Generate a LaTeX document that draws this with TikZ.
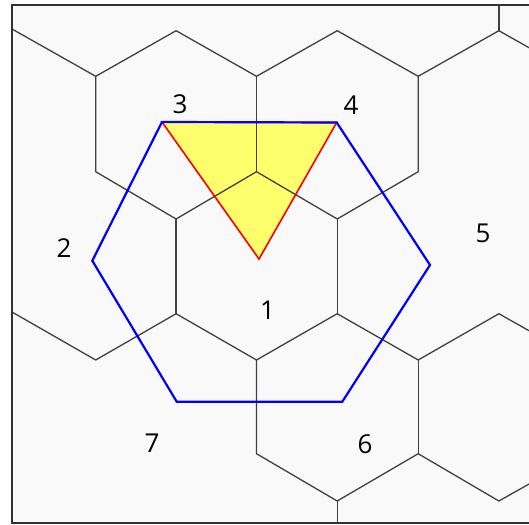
\documentclass[tikz,border=0pt]{standalone}
\usepackage{fontspec}
\setmainfont{Open Sans}
\definecolor{bgfill}{HTML}{F9F9F9}
\definecolor{gridgray}{HTML}{404040}
\definecolor{tri}{HTML}{FFFF6E}
\begin{document}
\begin{tikzpicture}[x=1pt,y=-1pt,
  gridline/.style={draw=gridgray, line width=1.3pt, line join=round},
  frameline/.style={draw=black!80, line width=1.8pt},
  hexline/.style={draw=blue, line width=2.2pt, line join=miter},
  triline/.style={draw=red, line width=1.6pt, line join=miter},
  lab/.style={font=\fontsize{26}{26}\selectfont, inner sep=0pt}]
\useasboundingbox (0,0) rectangle (529,524);
\fill[white] (0,0) rectangle (529,524);
\fill[bgfill] (12,5) rectangle (529,523);
% columns and rows
\def\cA{95.7}\def\cB{176.1}\def\cC{256.5}\def\cD{337.2}\def\cE{418.2}\def\cF{498.9}
\def\ra{30.7}\def\rb{76.3}\def\rc{171.7}\def\rd{219}\def\re{313.7}\def\rf{360}\def\rg{453.7}\def\rh{501}
% triangle fill
\coordinate (t1) at (162,122);
\coordinate (t2) at (336.7,122.5);
\coordinate (t3) at (259,259);
\fill[tri] (t1) -- (t2) -- (t3) -- cycle;
% hex grid
\begin{scope}
\clip (12,5) rectangle (529,523);
\draw[gridline] (12,29) -- (\cA,\rb) -- (\cB,\ra) -- (\cC,\rb) -- (\cD,\ra) -- (\cE,\rb) -- (\cF,\ra) -- (529,47.7);
\draw[gridline] (\cF,\ra) -- (\cF,0);
\draw[gridline] (\cA,\rb) -- (\cA,\rc) -- (\cB,\rd) -- (\cC,\rc) -- (\cD,\rd) -- (\cE,\rc) -- (\cE,\rb);
\draw[gridline] (\cC,\rb) -- (\cC,\rc);
\draw[gridline] (\cB,\rd) -- (\cB,\re);
\draw[gridline] (\cD,\rd) -- (\cD,\re);
\draw[gridline] (12,312) -- (\cA,\rf) -- (\cB,\re) -- (\cC,\rf) -- (\cD,\re) -- (\cE,\rf) -- (\cF,\re) -- (529,330.7);
\draw[gridline] (\cC,\rf) -- (\cC,\rg) -- (\cD,\rh) -- (\cE,\rg) -- (\cF,\rh) -- (529,484);
\draw[gridline] (\cE,\rf) -- (\cE,\rg);
\draw[gridline] (\cD,\rh) -- (\cD,530);
\end{scope}
% red triangle
\draw[triline] (t1) -- (t2) -- (t3) -- cycle;
% blue hexagon
\coordinate (h1) at (162,122);
\coordinate (h2) at (336.7,122.5);
\coordinate (h3) at (430,265);
\coordinate (h4) at (342.3,401.7);
\coordinate (h5) at (176.7,401.7);
\coordinate (h6) at (92.3,260.7);
\draw[hexline] (h1) -- (h2) -- (h3) -- (h4) -- (h5) -- (h6) -- cycle;
% frame
\draw[frameline] (529,5) -- (12,5) -- (12,523) -- (529,523);
% labels
\node[lab] (n1) at (267.5,310) {1};
\node[lab] (n2) at (64,248) {2};
\node[lab] (n3) at (180,104.5) {3};
\node[lab] (n4) at (351,105) {4};
\node[lab] (n5) at (483,233.5) {5};
\node[lab] (n6) at (365,444) {6};
\node[lab] (n7) at (152,443) {7};
\end{tikzpicture}
\end{document}
